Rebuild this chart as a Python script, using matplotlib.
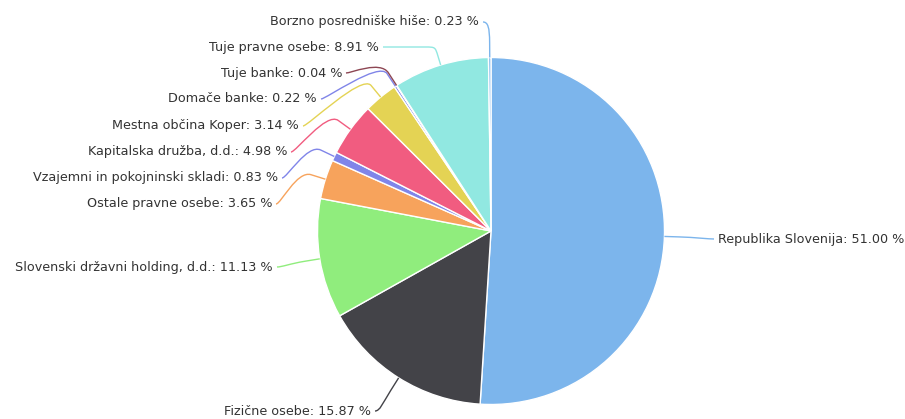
import numpy as np
import matplotlib
matplotlib.use('Agg')
import matplotlib.pyplot as plt
from matplotlib.path import Path
from matplotlib.patches import PathPatch

categories = ["Republika Slovenija", "Fizične osebe", "Slovenski državni holding, d.d.",
              "Ostale pravne osebe", "Vzajemni in pokojninski skladi", "Kapitalska družba, d.d.",
              "Mestna občina Koper", "Domače banke", "Tuje banke", "Tuje pravne osebe",
              "Borzno posredniške hiše"]
shares = [51.00, 15.87, 11.13, 3.65, 0.83, 4.98, 3.14, 0.22, 0.04, 8.91, 0.23]
colors = ['#7cb5ec', '#434348', '#90ed7d', '#f7a35c', '#8085e9', '#f15c80',
          '#e4d354', '#8085e8', '#8d4653', '#91e8e1', '#7cb5ec']

# layout (pixel coords, y downward): text edge x, text centre y, alignment
label_layout = [(718, 239, 'left'), (371, 411, 'right'), (273, 267, 'right'),
                (272, 204, 'right'), (278, 178, 'right'), (287, 152, 'right'),
                (299, 126, 'right'), (317, 99, 'right'), (342, 73, 'right'),
                (379, 47, 'right'), (479, 22, 'right')]

W, H = 905, 419
CX, CY, R = 491.0, 231.0, 173.5

fig = plt.figure(figsize=(W / 100, H / 100), dpi=100)
ax = fig.add_axes([0, 0, 1, 1])
ax.pie(shares, colors=colors, startangle=90, counterclock=False,
       center=(CX, H - CY), radius=R,
       wedgeprops=dict(edgecolor='white', linewidth=1.0))
ax.set_xlim(0, W)
ax.set_ylim(0, H)
ax.set_aspect('auto')
ax.axis('off')


def pt(theta_deg, r):
    t = np.deg2rad(theta_deg)
    return (CX + r * np.sin(t), CY - r * np.cos(t))


def to_data(p):
    return (p[0], H - p[1])


total = sum(shares)
cum = 0.0
for name, val, col, (tx, ty, align) in zip(categories, shares, colors, label_layout):
    mid = (cum + val / 2) / total * 360.0
    cum += val
    edge = pt(mid, R)
    p15 = pt(mid, R + 15)
    p30 = pt(mid, R + 30)
    dy = -np.cos(np.deg2rad(mid))
    s_cross = None
    if abs(dy) > 1e-6:
        sc = (ty - p15[1]) / dy
        if 0 <= sc < 15:
            s_cross = sc
    if align == 'right':
        start = (tx + 4, ty)
    else:
        start = (tx - 4, ty)
    if s_cross is not None:
        cross = pt(mid, R + 15 + s_cross)
        knee = (cross[0] - 10, ty)
        pmid = pt(mid, R + (15 + s_cross) / 2)
        verts = [start, knee, cross, cross, pmid, edge]
        codes = [Path.MOVETO, Path.LINETO, Path.CURVE4, Path.CURVE4, Path.CURVE4,
                 Path.LINETO]
    else:
        c1 = (start[0] + (5 if align == 'right' else -5), ty)
        verts = [start, c1, p30, p15, edge]
        codes = [Path.MOVETO, Path.CURVE4, Path.CURVE4, Path.CURVE4, Path.LINETO]
    verts = [to_data(v) for v in verts]
    ax.add_patch(PathPatch(Path(verts, codes), facecolor='none', edgecolor=col,
                           linewidth=1.0, zorder=3))
    ax.text(tx, H - ty, f"{name}: {val:.2f} %", ha=align, va='center',
            fontsize=9.2, color='#333333', family='DejaVu Sans')

fig.savefig('out.png', dpi=100)
